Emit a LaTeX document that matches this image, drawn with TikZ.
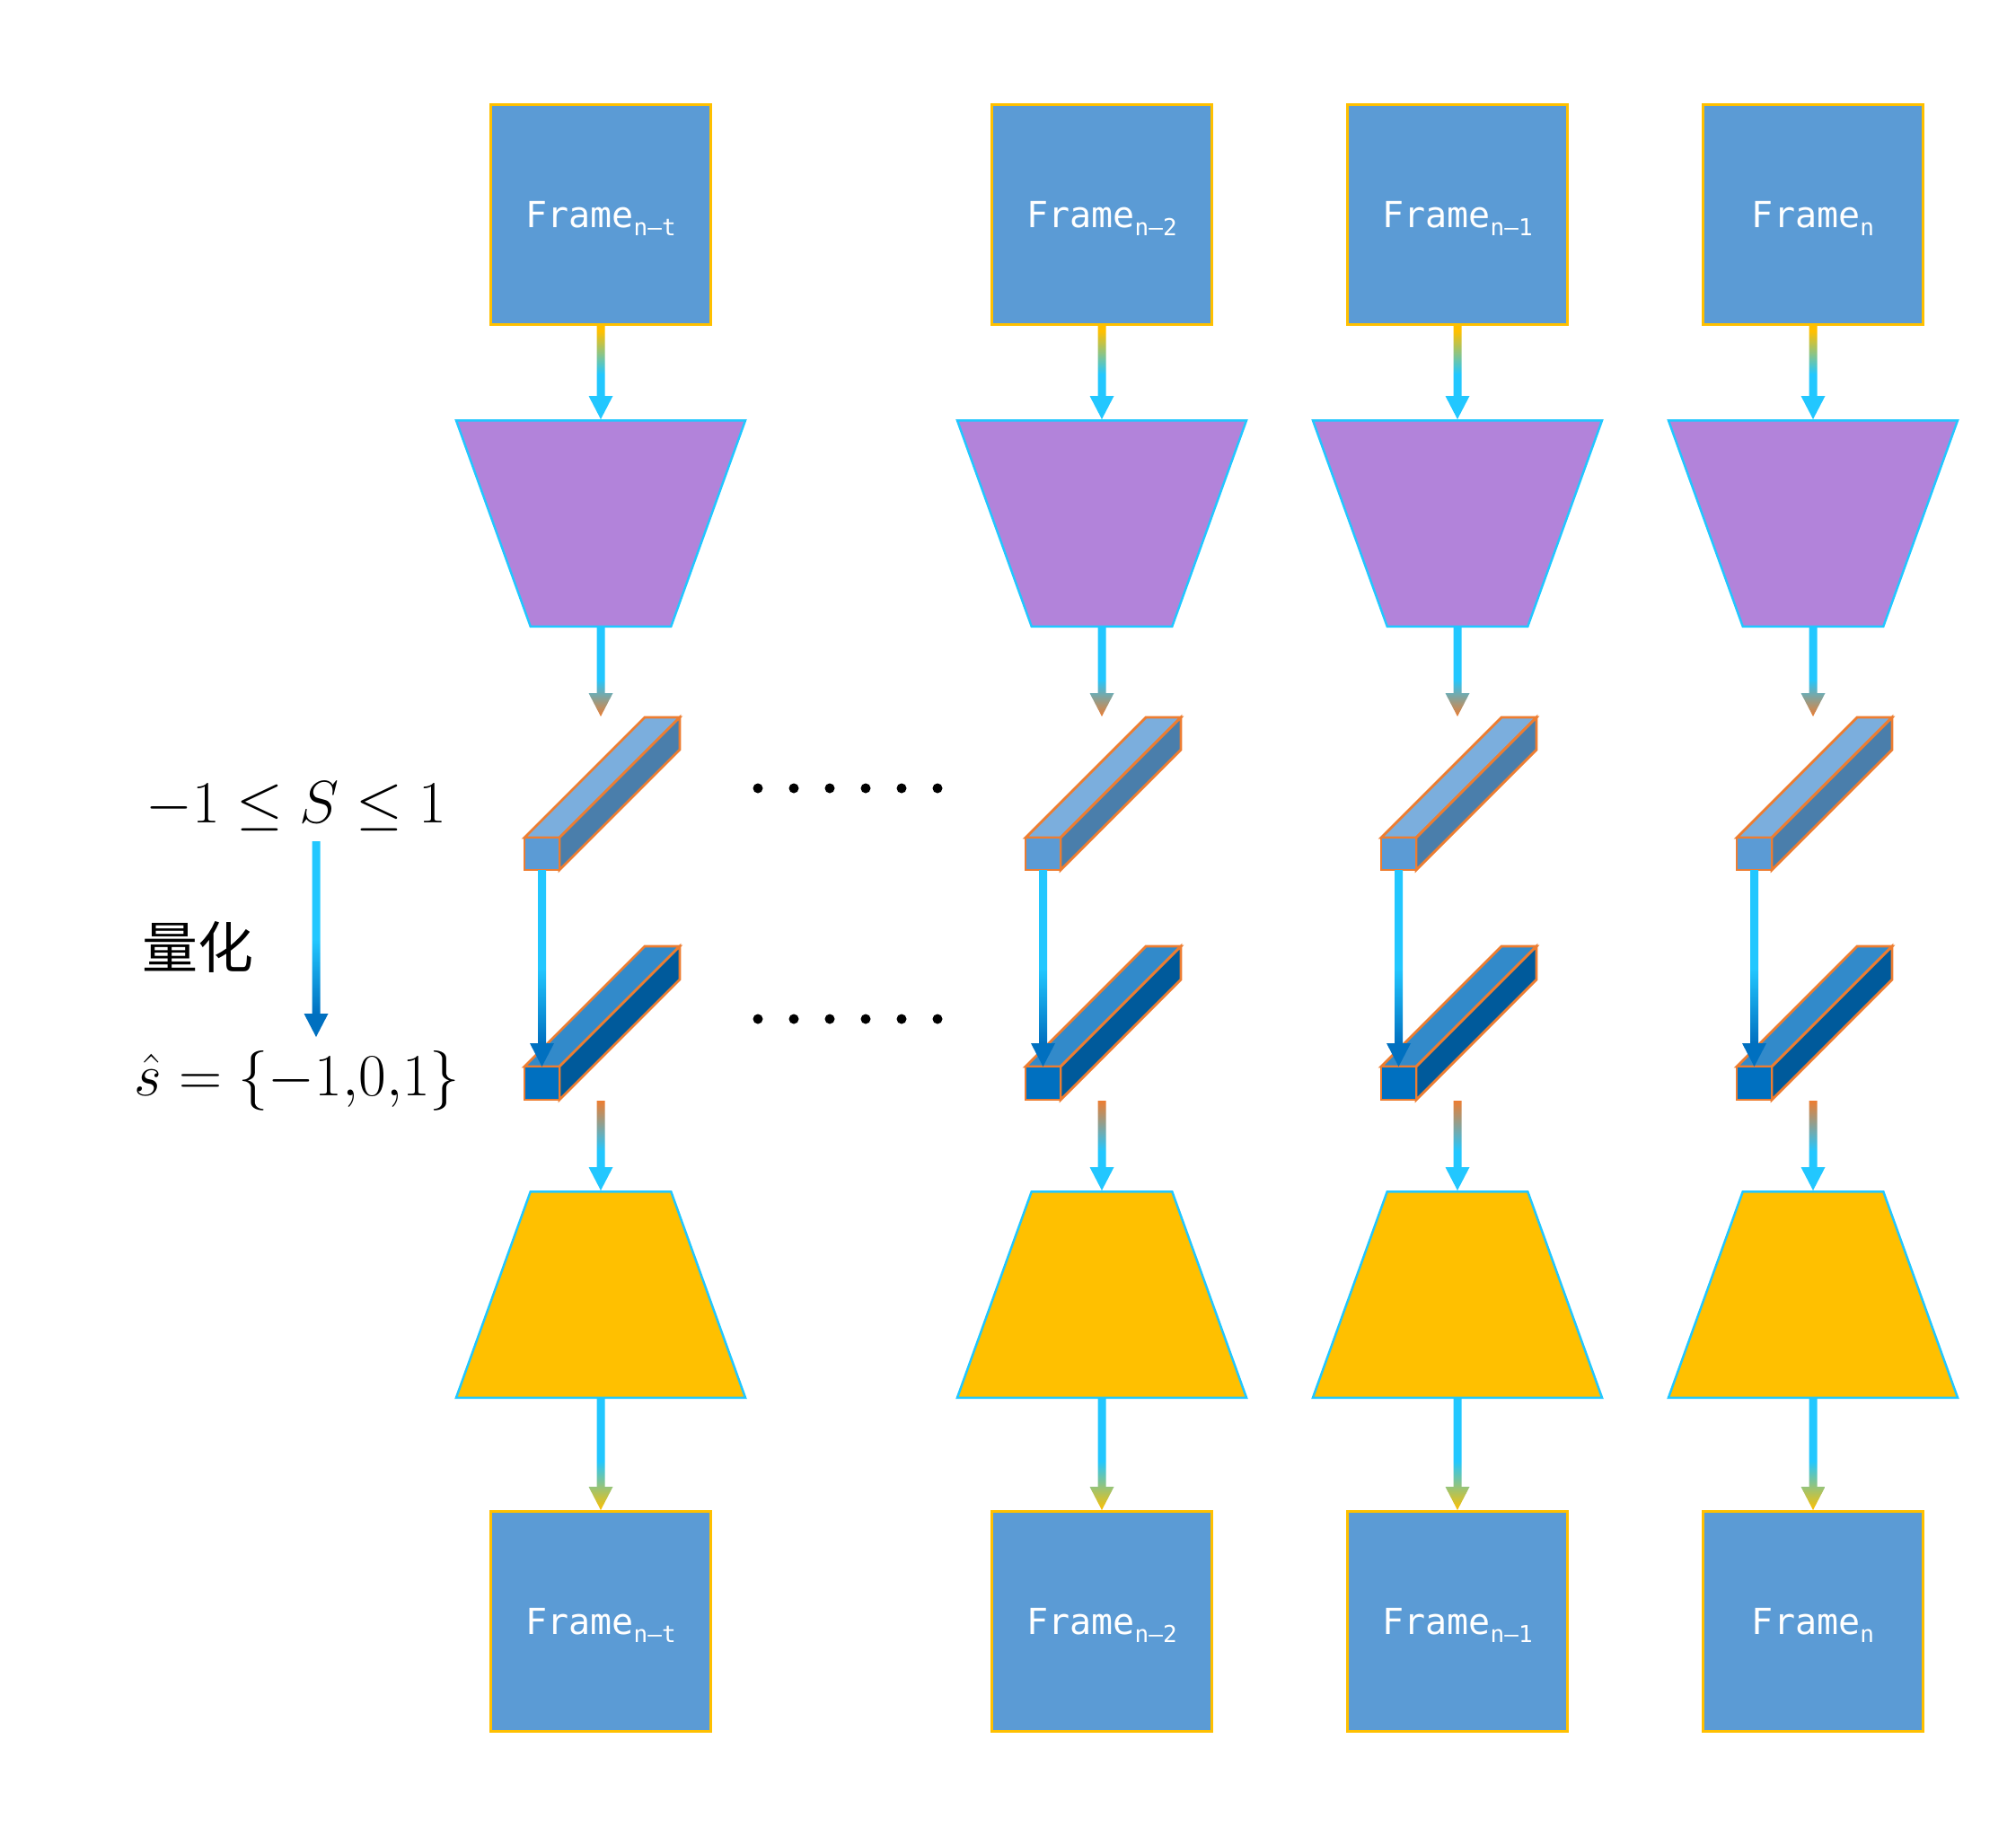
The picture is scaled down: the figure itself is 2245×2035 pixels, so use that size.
\documentclass[tikz,border=0pt]{standalone}
\usepackage{fontspec}
\usepackage{graphicx}
\newfontfamily\monofont{DejaVu Sans Mono}
\newfontfamily\cjk{Noto Sans CJK SC}
\usetikzlibrary{calc}

\definecolor{fblue}{HTML}{5B9BD5}
\definecolor{fgold}{HTML}{FFC000}
\definecolor{acyan}{HTML}{22C7FF}
\definecolor{epurp}{HTML}{B283DA}
\definecolor{borange}{HTML}{ED7D31}
\definecolor{dblue}{HTML}{0070C0}
\definecolor{ubtop}{HTML}{7BAEDD}
\definecolor{ubside}{HTML}{4A7EAB}
\definecolor{lbtop}{HTML}{328ACA}
\definecolor{lbside}{HTML}{005A9B}

\pgfdeclareverticalshading{gTopEnc}{100bp}{color(0bp)=(acyan); color(49bp)=(acyan); color(72bp)=(fgold); color(100bp)=(fgold)}
\pgfdeclareverticalshading{gEncBar}{100bp}{color(0bp)=(borange); color(25bp)=(borange); color(46bp)=(acyan); color(100bp)=(acyan)}
\pgfdeclareverticalshading{gBarBar}{100bp}{color(0bp)=(dblue); color(31bp)=(dblue); color(50bp)=(acyan); color(100bp)=(acyan)}
\pgfdeclareverticalshading{gBarDec}{100bp}{color(0bp)=(acyan); color(47bp)=(acyan); color(75bp)=(borange); color(100bp)=(borange)}
\pgfdeclareverticalshading{gDecBot}{100bp}{color(0bp)=(fgold); color(25bp)=(fgold); color(47bp)=(acyan); color(100bp)=(acyan)}

\newcommand\frm[1]{Frame\raisebox{-4.5pt}{\fontsize{13}{15}\selectfont #1}}
% gradient arrow: #1 start, #2 tip, #3 shading
\newcommand\garrow[3]{%
  \shade[shading=#3] ($(#1)+(-4.5,0)$) -- ($(#2)+(-4.5,-26)$) -- ($(#2)+(-13.5,-26)$) -- (#2)
    -- ($(#2)+(13.5,-26)$) -- ($(#2)+(4.5,-26)$) -- ($(#1)+(4.5,0)$) -- cycle;}
% bar: #1 xa, #2 xb, #3 ytop, #4 ybot, #5 front, #6 top, #7 side
\newcommand\drawbar[7]{%
  \filldraw[barline, fill=#6] (#1,#3) -- (#1+134,#3-134) -- (#2+134,#3-134) -- (#2,#3) -- cycle;
  \filldraw[barline, fill=#7] (#2,#3) -- (#2+134,#3-134) -- (#2+134,#4-134) -- (#2,#4) -- cycle;
  \filldraw[barline, fill=#5] (#1,#3) rectangle (#2,#4);}

\begin{document}
\begin{tikzpicture}[x=0.5pt,y=-0.5pt,
  framebox/.style={draw=fgold, line width=1.5pt, fill=fblue, minimum width=122.5pt,
    minimum height=122.5pt, inner sep=0pt, text depth=0pt, text=white, font=\monofont\fontsize{20}{24}\selectfont},
  trap/.style={draw=acyan, line width=1.25pt},
  barline/.style={draw=borange, line width=1.4pt},
  mathlbl/.style={anchor=base, inner sep=0pt, font=\fontsize{24.88}{30}\selectfont}]
\useasboundingbox (0,0) rectangle (2245,2035);

\foreach \c/\s/\i in {669/n–t/1, 1227/n–2/2, 1623/n–1/3, 2019/n/4}{
  \node[framebox] (top\i) at (\c,238.5) {\frm{\s}};
  \node[framebox] (bot\i) at (\c,1806) {\frm{\s}};
  % encoder
  \filldraw[trap, fill=epurp] (\c-161,468.25) -- (\c+161,468.25) -- (\c+78.25,697.75) -- (\c-78.25,697.75) -- cycle;
  \coordinate (encN\i) at (\c,467);
  \coordinate (encS\i) at (\c,699);
  % decoder
  \filldraw[trap, fill=fgold] (\c-78.25,1327.25) -- (\c+78.25,1327.25) -- (\c+161,1556.75) -- (\c-161,1556.75) -- cycle;
  \coordinate (decN\i) at (\c,1326);
  \coordinate (decS\i) at (\c,1558);
  % bars
  \pgfmathsetmacro\xa{\c-85}
  \pgfmathsetmacro\xb{\c-46}
  \drawbar{\xa}{\xb}{933}{969}{fblue}{ubtop}{ubside}
  \drawbar{\xa}{\xb}{1188}{1225}{dblue}{lbtop}{lbside}
  \coordinate (ubin\i) at (\c,798);
  \coordinate (ubout\i) at (\c-65.5,969);
  \coordinate (lbin\i) at (\c-65.5,1188);
  \coordinate (lbout\i) at (\c,1226);
  \garrow{top\i.south}{encN\i}{gTopEnc}
  \garrow{encS\i}{ubin\i}{gEncBar}
  \garrow{ubout\i}{lbin\i}{gBarBar}
  \garrow{lbout\i}{decN\i}{gBarDec}
  \garrow{decS\i}{bot\i.north}{gDecBot}
}

\foreach \k in {0,...,5}{
  \fill (844+40*\k,878) circle (5.5);
  \fill (844+40*\k,1135) circle (5.5);
}

\node[mathlbl] (rng) at (330,916) {\scalebox{1.34}{$-1\leq S\leq 1$}};
\node[font=\cjk\fontsize{31}{36}\selectfont, inner sep=0pt] (quant) at (220,1055) {量化};
\node[mathlbl] (shat) at (331,1220) {\scalebox{1.34}{$\hat{s}=\{-1{,}0{,}1\}$}};
\coordinate (qa) at (352,937);
\coordinate (qb) at (352,1155);
\garrow{qa}{qb}{gBarBar}
\end{tikzpicture}
\end{document}
